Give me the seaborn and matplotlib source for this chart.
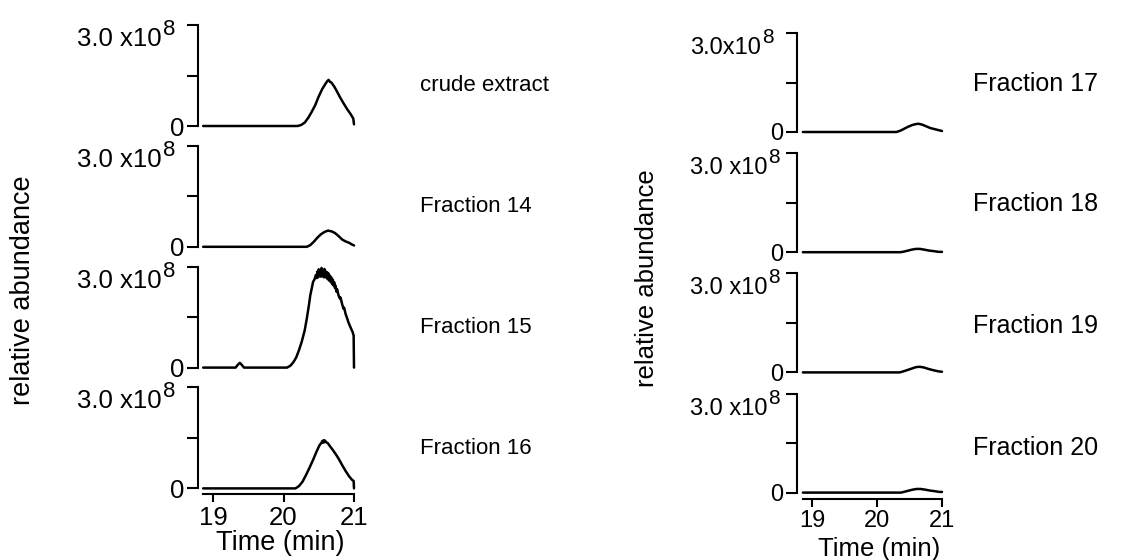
import matplotlib
matplotlib.use("Agg")
import matplotlib.pyplot as plt
import seaborn as sns
import pandas as pd

sns.set_style("ticks")
plt.rcParams["font.family"] = ["Liberation Sans", "DejaVu Sans"]
for key in ("text.color", "axes.labelcolor", "xtick.color", "ytick.color", "axes.edgecolor"):
    plt.rcParams[key] = "black"

# ---- chromatogram traces (time in min, abundance in units of 1e8) ----
crude_t = [18.86, 20.20, 20.25, 20.30, 20.35, 20.40, 20.45, 20.50, 20.55, 20.60,
           20.62, 20.64, 20.66, 20.68, 20.72, 20.76, 20.80, 20.85, 20.90, 20.95,
           20.99, 21.00]
crude_v = [0, 0, 0.03, 0.10, 0.24, 0.42, 0.62, 0.88, 1.10, 1.27,
           1.33, 1.37, 1.31, 1.29, 1.17, 1.02, 0.86, 0.68, 0.51, 0.36,
           0.22, 0.05]

f14_t = [18.86, 20.33, 20.38, 20.43, 20.48, 20.53, 20.58, 20.63, 20.68, 20.73,
         20.78, 20.83, 20.88, 20.93, 20.97, 21.00]
f14_v = [0, 0, 0.05, 0.15, 0.27, 0.37, 0.44, 0.48, 0.46, 0.41,
         0.32, 0.22, 0.16, 0.12, 0.07, 0.04]

f15_t = [18.86, 19.32, 19.35, 19.38, 19.40, 19.42, 19.44, 20.05, 20.10, 20.14,
         20.18, 20.22, 20.26, 20.30, 20.33, 20.36, 20.38, 20.40, 20.42, 20.44,
         20.46, 20.47, 20.48, 20.49, 20.50, 20.51, 20.52, 20.53, 20.54, 20.55,
         20.56, 20.57, 20.58, 20.59, 20.60, 20.61, 20.62, 20.63, 20.64, 20.65,
         20.66, 20.67, 20.68, 20.69, 20.70, 20.71, 20.72, 20.73, 20.74, 20.75,
         20.76, 20.78, 20.80, 20.81, 20.83, 20.85, 20.86, 20.88, 20.90, 20.92,
         20.94, 20.96, 20.98, 20.995, 21.00]
f15_v = [0, 0, 0.08, 0.14, 0.10, 0.05, 0, 0, 0.06, 0.16,
         0.30, 0.52, 0.78, 1.10, 1.45, 1.85, 2.15, 2.35, 2.55, 2.62,
         2.75, 2.66, 2.85, 2.68, 2.92, 2.72, 2.88, 2.70, 2.96, 2.74,
         2.88, 2.68, 2.93, 2.71, 2.86, 2.66, 2.83, 2.62, 2.79, 2.58,
         2.73, 2.54, 2.67, 2.48, 2.61, 2.44, 2.53, 2.36, 2.43, 2.26,
         2.33, 2.15, 2.05, 2.08, 1.90, 1.75, 1.78, 1.60, 1.48, 1.35,
         1.25, 1.15, 1.06, 0.95, 0]

f16_t = [18.86, 20.17, 20.22, 20.27, 20.32, 20.37, 20.42, 20.47, 20.51, 20.54,
         20.55, 20.56, 20.57, 20.58, 20.59, 20.60, 20.63, 20.66, 20.70, 20.74,
         20.78, 20.83, 20.88, 20.93, 20.97, 20.995, 21.00]
f16_v = [0, 0, 0.07, 0.20, 0.40, 0.62, 0.85, 1.10, 1.28, 1.36,
         1.41, 1.36, 1.43, 1.37, 1.42, 1.38, 1.34, 1.25, 1.14, 1.02,
         0.89, 0.70, 0.52, 0.36, 0.26, 0.22, 0]

f17_t = [18.86, 20.30, 20.36, 20.42, 20.48, 20.54, 20.60, 20.64, 20.70, 20.76,
         20.82, 20.88, 20.94, 21.00]
f17_v = [0, 0, 0.04, 0.10, 0.16, 0.21, 0.24, 0.25, 0.22, 0.17,
         0.12, 0.09, 0.06, 0.03]

f18_t = [18.86, 20.36, 20.42, 20.48, 20.54, 20.60, 20.66, 20.72, 20.80, 20.88,
         20.95, 21.00]
f18_v = [0, 0, 0.02, 0.05, 0.08, 0.10, 0.10, 0.08, 0.05, 0.03,
         0.01, 0.01]

f19_t = [18.86, 20.35, 20.42, 20.48, 20.54, 20.60, 20.66, 20.72, 20.80, 20.88,
         20.95, 21.00]
f19_v = [0, 0, 0.04, 0.08, 0.12, 0.16, 0.17, 0.15, 0.10, 0.06,
         0.03, 0.02]

f20_t = [18.86, 20.37, 20.43, 20.49, 20.55, 20.61, 20.67, 20.74, 20.82, 20.90,
         20.96, 21.00]
f20_v = [0, 0, 0.03, 0.06, 0.09, 0.11, 0.11, 0.09, 0.06, 0.04,
         0.02, 0.02]

left_names = ["crude extract", "Fraction 14", "Fraction 15", "Fraction 16"]
right_names = ["Fraction 17", "Fraction 18", "Fraction 19", "Fraction 20"]
left_traces = [(crude_t, crude_v), (f14_t, f14_v), (f15_t, f15_v), (f16_t, f16_v)]
right_traces = [(f17_t, f17_v), (f18_t, f18_v), (f19_t, f19_v), (f20_t, f20_v)]

x_ticks = [19, 20, 21]
y_ticks = [0, 1.5e8, 3.0e8]
scale_mantissa_spaced = "3.0 x10"
scale_mantissa_tight = "3.0x10"
scale_exponent = "8"

W, H = 1144, 560
fig = plt.figure(figsize=(W / 100, H / 100), dpi=100)

LW_SPINE = 1.5
LW_TRACE = 1.8
PX = 72 / 100  # points per pixel


def scale_label(ax, mantissa, fs_main, fs_exp, main_gap):
    """Write '3.0 x10^8' beneath the top tick, exponent right after the mantissa."""
    ax.annotate(mantissa, xy=(0, 3.0e8), xycoords=("axes fraction", "data"),
                xytext=(-main_gap * PX, -21 * PX), textcoords="offset points",
                ha="right", va="baseline", fontsize=fs_main, annotation_clip=False)
    ax.annotate(scale_exponent, xy=(0, 3.0e8), xycoords=("axes fraction", "data"),
                xytext=(-(main_gap - 1) * PX, -10 * PX), textcoords="offset points",
                ha="left", va="baseline", fontsize=fs_exp, annotation_clip=False)


def make_column(x0, x1, xstart, top0, step, height, names, traces, name_x,
                name_y, first_mantissa, fs_tick, fs_exp, fs_name, fs_axis,
                main_gap, ylabel_xy, xlabel_xy):
    for i, (name, (t, v)) in enumerate(zip(names, traces)):
        top = top0 + step * i
        ax = fig.add_axes([x0 / W, 1 - (top + height) / H, (x1 - x0) / W, height / H])
        df = pd.DataFrame({"time": t, "abundance": [val * 1e8 for val in v]})
        sns.lineplot(data=df, x="time", y="abundance", ax=ax, color="black",
                     linewidth=LW_TRACE, estimator=None, sort=False)
        for ln in ax.lines:
            ln.set_clip_on(False)
        ax.set_xlim(xstart, 21.0)
        ax.set_ylim(0, 3.0e8)
        ax.set_xlabel("")
        ax.set_ylabel("")
        for s in ("top", "right"):
            ax.spines[s].set_visible(False)
        ax.spines["left"].set_linewidth(LW_SPINE)
        ax.spines["left"].set_bounds(0, 3.0e8)
        ax.set_yticks(y_ticks)
        ax.set_yticklabels(["0", "", ""])
        ax.tick_params(axis="y", direction="out", length=8, width=LW_SPINE,
                       labelsize=fs_tick, pad=2)
        mant = first_mantissa if i == 0 else scale_mantissa_spaced
        scale_label(ax, mant, fs_tick, fs_exp, main_gap[min(i, 1)])
        if i == len(names) - 1:
            ax.spines["bottom"].set_position(("outward", 6 * PX))
            ax.spines["bottom"].set_linewidth(LW_SPINE)
            ax.spines["bottom"].set_bounds(18.86, 21.0)
            ax.set_xticks(x_ticks)
            ax.set_xticklabels([str(x) for x in x_ticks])
            ax.tick_params(axis="x", direction="out", length=6, width=LW_SPINE,
                           labelsize=fs_tick, pad=2)
        else:
            ax.spines["bottom"].set_visible(False)
            ax.set_xticks([])
        ax.patch.set_alpha(0)
        ax.text((name_x - x0) / (x1 - x0), name_y[i], name, transform=ax.transAxes,
                fontsize=fs_name, ha="left", va="center")
    fig.text(ylabel_xy[0] / W, 1 - ylabel_xy[1] / H, "relative abundance",
             rotation=90, fontsize=fs_axis, ha="center", va="center")
    fig.text(xlabel_xy[0] / W, 1 - xlabel_xy[1] / H, "Time (min)",
             fontsize=fs_axis, ha="center", va="center")


make_column(198, 354, 18.787, 25, 120.8, 101, left_names, left_traces, 420,
            [0.40, 0.40, 0.40, 0.40], scale_mantissa_spaced, 18.5, 16, 16, 19.5,
            (36, 36), (23, 290), (280, 543))
make_column(797, 942, 18.77, 33, 120.2, 99, right_names, right_traces, 973,
            [0.485, 0.485, 0.47, 0.45], scale_mantissa_tight, 17, 15, 18, 18.5,
            (36, 30), (647, 278), (879, 549))

fig.savefig("out.png", dpi=100)
